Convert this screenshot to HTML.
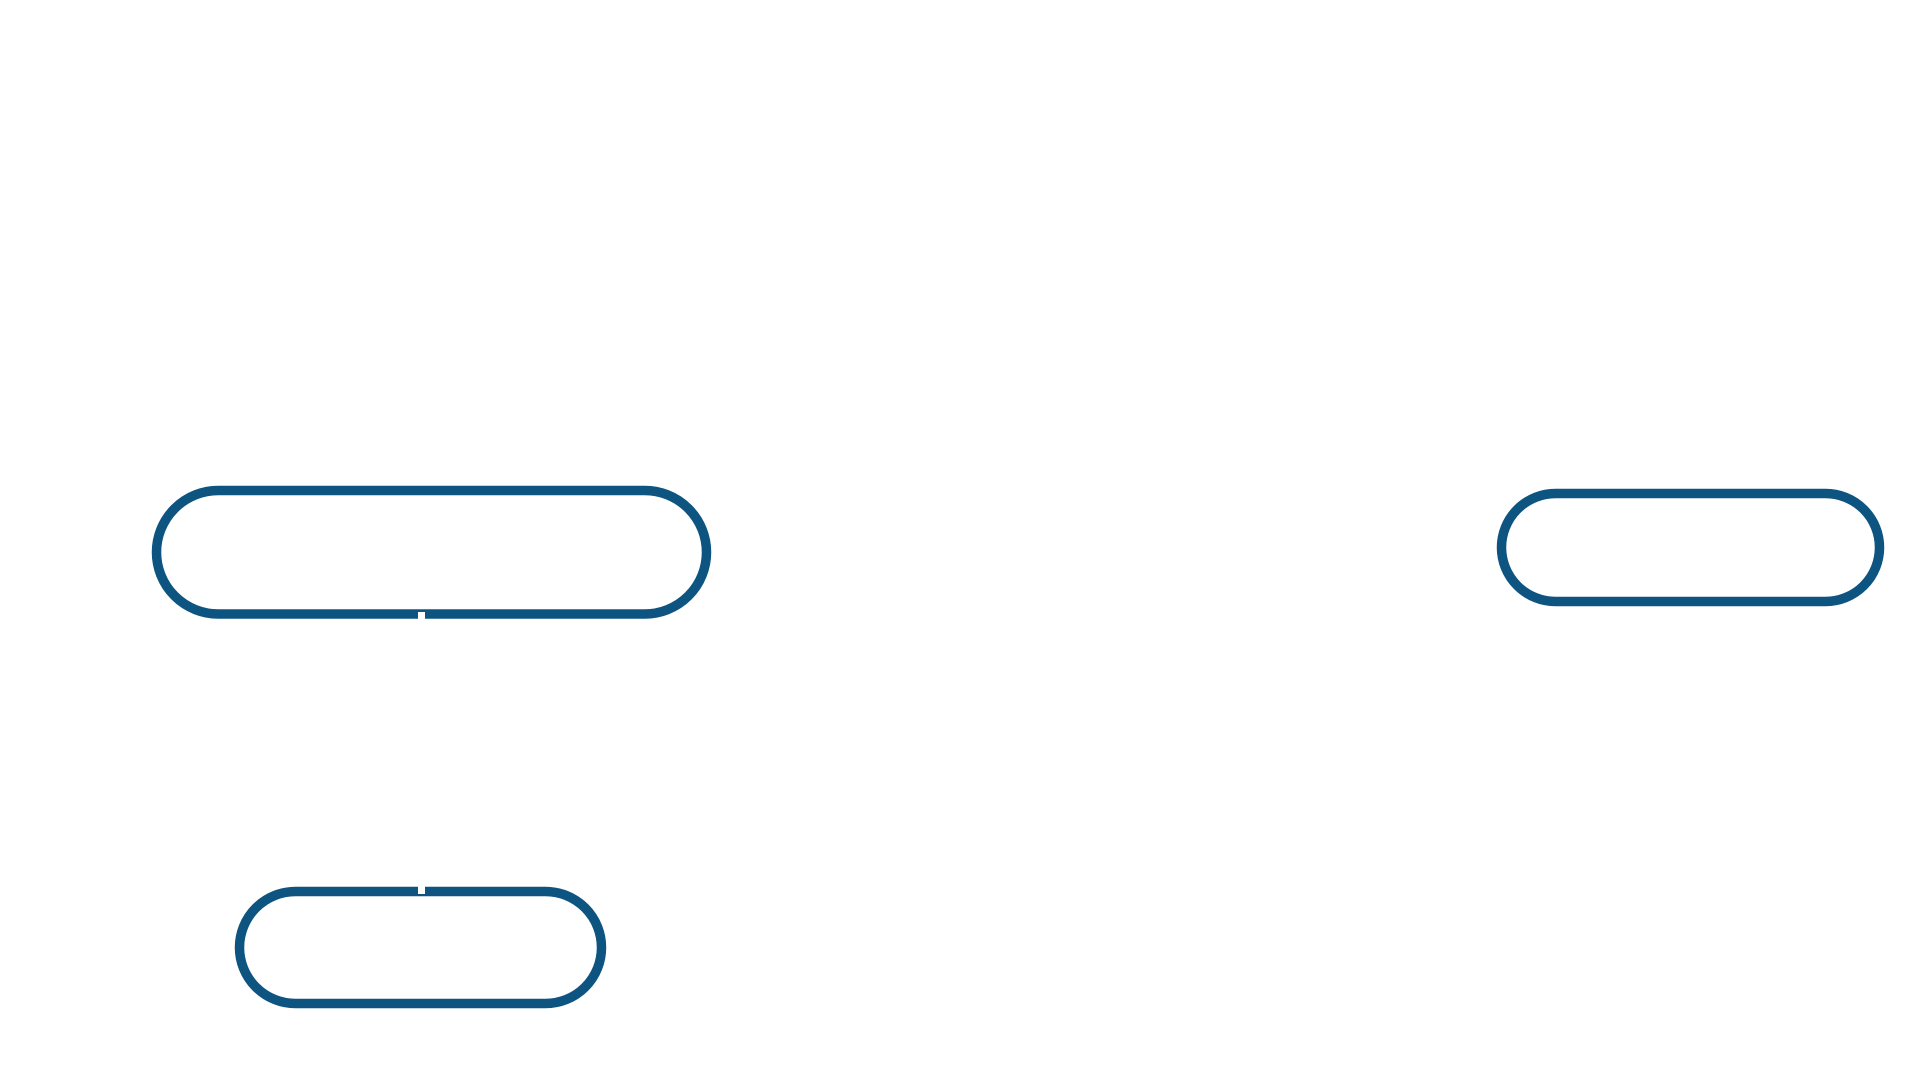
<!DOCTYPE html>
<html><head><meta charset="utf-8"><style>html,body{margin:0;padding:0;background:#fff;width:1920px;height:1080px;overflow:hidden}</style></head>
<body>
<svg width="1920" height="1080" xmlns="http://www.w3.org/2000/svg">
<g fill="none" stroke="#0d5580" stroke-width="9.5">
<rect x="156.5" y="490.5" width="550" height="123.5" rx="61.75"/>
<rect x="239.5" y="891.5" width="362" height="112" rx="56"/>
<rect x="1501.5" y="493.5" width="378" height="108" rx="54"/>
</g>
<rect x="418" y="612" width="7" height="8" fill="#fff"/>
<rect x="418" y="886" width="7" height="8" fill="#fff"/>
</svg>
</body></html>
